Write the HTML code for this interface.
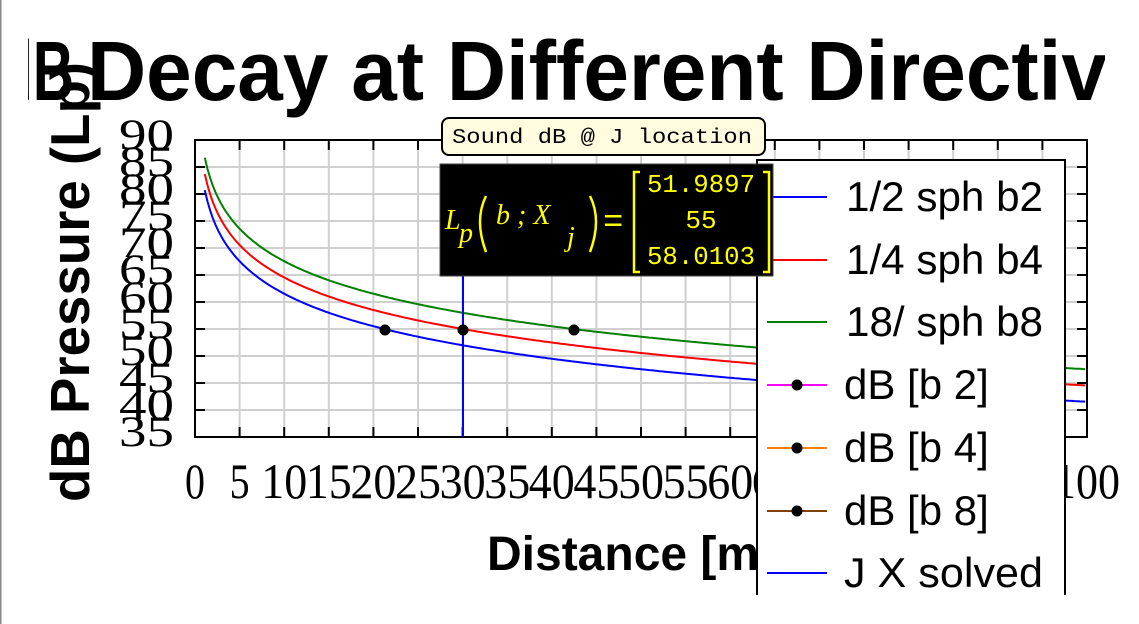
<!DOCTYPE html>
<html><head><meta charset="utf-8"><style>
html,body{margin:0;padding:0;background:#fff;}
svg{display:block;}
</style></head><body>
<svg width="1139" height="624" xmlns="http://www.w3.org/2000/svg" font-family="Liberation Sans, sans-serif">
<rect x="0" y="0" width="1139" height="624" fill="#fff"/>
<line x1="0.5" y1="0" x2="0.5" y2="624" stroke="#888" stroke-width="2"/>
<defs><clipPath id="pc"><rect x="195" y="140" width="892" height="297"/></clipPath>
<clipPath id="tc"><rect x="28" y="0" width="1077" height="130"/></clipPath></defs>

<!-- grid -->
<g stroke="#d0d0d0" stroke-width="2">
<line x1="239.6" y1="140" x2="239.6" y2="437"/><line x1="284.2" y1="140" x2="284.2" y2="437"/><line x1="328.8" y1="140" x2="328.8" y2="437"/><line x1="373.4" y1="140" x2="373.4" y2="437"/><line x1="418" y1="140" x2="418" y2="437"/><line x1="462.6" y1="140" x2="462.6" y2="437"/><line x1="507.2" y1="140" x2="507.2" y2="437"/><line x1="551.8" y1="140" x2="551.8" y2="437"/><line x1="596.4" y1="140" x2="596.4" y2="437"/><line x1="641" y1="140" x2="641" y2="437"/><line x1="685.6" y1="140" x2="685.6" y2="437"/><line x1="730.2" y1="140" x2="730.2" y2="437"/><line x1="774.8" y1="140" x2="774.8" y2="437"/><line x1="819.4" y1="140" x2="819.4" y2="437"/><line x1="864" y1="140" x2="864" y2="437"/><line x1="908.6" y1="140" x2="908.6" y2="437"/><line x1="953.2" y1="140" x2="953.2" y2="437"/><line x1="997.8" y1="140" x2="997.8" y2="437"/><line x1="1042.4" y1="140" x2="1042.4" y2="437"/>
<line x1="195" y1="167" x2="1087" y2="167"/><line x1="195" y1="194" x2="1087" y2="194"/><line x1="195" y1="221" x2="1087" y2="221"/><line x1="195" y1="248" x2="1087" y2="248"/><line x1="195" y1="275" x2="1087" y2="275"/><line x1="195" y1="302" x2="1087" y2="302"/><line x1="195" y1="329" x2="1087" y2="329"/><line x1="195" y1="356" x2="1087" y2="356"/><line x1="195" y1="383" x2="1087" y2="383"/><line x1="195" y1="410" x2="1087" y2="410"/>
</g>
<!-- ticks -->
<g stroke="#000" stroke-width="2">
<path d="M239.6 437v-10M284.2 437v-10M328.8 437v-10M373.4 437v-10M418 437v-10M462.6 437v-10M507.2 437v-10M551.8 437v-10M596.4 437v-10M641 437v-10M685.6 437v-10M730.2 437v-10M774.8 437v-10M819.4 437v-10M864 437v-10M908.6 437v-10M953.2 437v-10M997.8 437v-10M1042.4 437v-10"/>
<path d="M239.6 140v10M284.2 140v10M328.8 140v10M373.4 140v10M418 140v10M462.6 140v10M507.2 140v10M551.8 140v10M596.4 140v10M641 140v10M685.6 140v10M730.2 140v10M774.8 140v10M819.4 140v10M864 140v10M908.6 140v10M953.2 140v10M997.8 140v10M1042.4 140v10"/>
<path d="M195 167h10M195 194h10M195 221h10M195 248h10M195 275h10M195 302h10M195 329h10M195 356h10M195 383h10M195 410h10"/>
<path d="M1087 167h-10M1087 194h-10M1087 221h-10M1087 248h-10M1087 275h-10M1087 302h-10M1087 329h-10M1087 356h-10M1087 383h-10M1087 410h-10"/>
</g>
<rect x="195" y="140" width="892" height="297" fill="none" stroke="#000" stroke-width="2"/>

<!-- curves -->
<g clip-path="url(#pc)" fill="none" stroke-width="2" id="curves"></g>
<line x1="463" y1="275" x2="463" y2="437" stroke="#0000ff" stroke-width="2"/>
<g fill="#000"><circle cx="385" cy="330" r="5.5"/><circle cx="463" cy="330" r="5.5"/><circle cx="574" cy="330" r="5.5"/></g>

<!-- y labels -->
<g font-family="Liberation Serif, serif" font-size="43" text-anchor="end" fill="#000">
<text x="174" y="149" textLength="55" lengthAdjust="spacingAndGlyphs">90</text>
<text x="174" y="176" textLength="55" lengthAdjust="spacingAndGlyphs">85</text>
<text x="174" y="203" textLength="55" lengthAdjust="spacingAndGlyphs">80</text>
<text x="174" y="230" textLength="55" lengthAdjust="spacingAndGlyphs">75</text>
<text x="174" y="257" textLength="55" lengthAdjust="spacingAndGlyphs">70</text>
<text x="174" y="284" textLength="55" lengthAdjust="spacingAndGlyphs">65</text>
<text x="174" y="311" textLength="55" lengthAdjust="spacingAndGlyphs">60</text>
<text x="174" y="338" textLength="55" lengthAdjust="spacingAndGlyphs">55</text>
<text x="174" y="365" textLength="55" lengthAdjust="spacingAndGlyphs">50</text>
<text x="174" y="392" textLength="55" lengthAdjust="spacingAndGlyphs">45</text>
<text x="174" y="419" textLength="55" lengthAdjust="spacingAndGlyphs">40</text>
<text x="174" y="446" textLength="55" lengthAdjust="spacingAndGlyphs">35</text>
</g>
<!-- x labels -->
<g font-family="Liberation Serif, serif" font-size="50" text-anchor="middle" fill="#000" id="xl"></g>

<text transform="translate(89,502) rotate(-90)" font-size="55" font-weight="bold" textLength="440" lengthAdjust="spacingAndGlyphs">dB Pressure (Lp)</text>
<text x="487" y="570" font-size="48" font-weight="bold">Distance [m]</text>

<!-- title -->
<g clip-path="url(#tc)" font-size="84" font-weight="bold">
<text x="74" y="100" text-anchor="end" textLength="76" lengthAdjust="spacingAndGlyphs">dB</text>
<text x="87" y="100" textLength="1020" lengthAdjust="spacingAndGlyphs">Decay at Different Directiv</text>
</g>

<!-- legend -->
<path d="M757 595V160H1065V595" fill="#fff" stroke="#000" stroke-width="2"/>
<g stroke-width="2">
<line x1="767" y1="197" x2="827" y2="197" stroke="#0000ff"/>
<line x1="767" y1="260" x2="827" y2="260" stroke="#ff0000"/>
<line x1="767" y1="322" x2="827" y2="322" stroke="#008000"/>
<line x1="767" y1="385" x2="827" y2="385" stroke="#ff00ff"/>
<line x1="767" y1="448" x2="827" y2="448" stroke="#ff8000"/>
<line x1="767" y1="511" x2="827" y2="511" stroke="#804000"/>
<line x1="767" y1="573" x2="827" y2="573" stroke="#0000ff"/>
</g>
<g fill="#000"><circle cx="797" cy="385" r="5.5"/><circle cx="797" cy="448" r="5.5"/><circle cx="797" cy="511" r="5.5"/></g>
<g font-size="42" fill="#000">
<text x="846" y="211" textLength="197" lengthAdjust="spacingAndGlyphs">1/2 sph b2</text>
<text x="846" y="274" textLength="197" lengthAdjust="spacingAndGlyphs">1/4 sph b4</text>
<text x="846" y="336" textLength="197" lengthAdjust="spacingAndGlyphs">18/ sph b8</text>
<text x="844" y="399">dB [b 2]</text>
<text x="844" y="462">dB [b 4]</text>
<text x="844" y="525">dB [b 8]</text>
<text x="844" y="587" textLength="199" lengthAdjust="spacingAndGlyphs">J X solved</text>
</g>

<!-- tooltip -->
<rect x="442" y="118" width="323" height="37" rx="7" fill="#fffce0" stroke="#000" stroke-width="2"/>
<text x="452" y="143" font-family="Liberation Mono, monospace" font-size="21" textLength="300" lengthAdjust="spacingAndGlyphs">Sound dB @ J location</text>
<!-- black box -->
<rect x="440" y="164" width="333" height="112" fill="#000" stroke="#444" stroke-width="1"/>
<g fill="#ffff00">
<text x="445" y="229" font-family="Liberation Serif, serif" font-style="italic" font-size="28">L</text>
<text x="459" y="242" font-family="Liberation Serif, serif" font-style="italic" font-size="28">p</text>
<path d="M486 196 Q474 220 486 252" stroke="#ffff00" stroke-width="2.5" fill="none"/>
<text x="496" y="224" font-family="Liberation Serif, serif" font-style="italic" font-size="28">b ; X</text>
<text x="567" y="246" font-family="Liberation Serif, serif" font-style="italic" font-size="28">j</text>
<path d="M590 196 Q602 220 590 252" stroke="#ffff00" stroke-width="2.5" fill="none"/>
<text x="603" y="232" font-family="Liberation Mono, monospace" font-size="34">=</text>
<g font-family="Liberation Mono, monospace" font-size="26" text-anchor="middle">
<text x="701" y="192" textLength="108" lengthAdjust="spacingAndGlyphs">51.9897</text><text x="701" y="228">55</text><text x="701" y="264" textLength="108" lengthAdjust="spacingAndGlyphs">58.0103</text>
</g>
</g>
<path d="M640 172h-6v100h6M763 172h6v100h-6" stroke="#ffff00" stroke-width="2.5" fill="none"/>
<script>
(function(){
var ns="http://www.w3.org/2000/svg";
var g=document.getElementById('curves');
var defs=[[3.0103,'#0000ff'],[6.0206,'#ff0000'],[9.0309,'#008000']];
defs.forEach(function(d){
 var s='';
 for(var x=1.1;x<=100.01;x+=0.3){
  var v=78.52+d[0]-20*Math.log10(x);
  var px=195+x*8.92, py=437-(v-35)*5.4;
  s+=(s?'L':'M')+px.toFixed(1)+' '+py.toFixed(1);
 }
 var p=document.createElementNS(ns,'path');p.setAttribute('d',s);p.setAttribute('stroke',d[1]);g.appendChild(p);
});
var xl=document.getElementById('xl');
for(var i=0;i<=100;i+=5){
 var t=document.createElementNS(ns,'text');
 t.setAttribute('x',195+i*8.92);t.setAttribute('y',498);
 var s=String(i);t.textContent=s;
 t.setAttribute('textLength',s.length==1?20:(s.length==2?46:66));
 t.setAttribute('lengthAdjust','spacingAndGlyphs');
 xl.appendChild(t);
}
})();
</script>
</svg>
</body></html>
